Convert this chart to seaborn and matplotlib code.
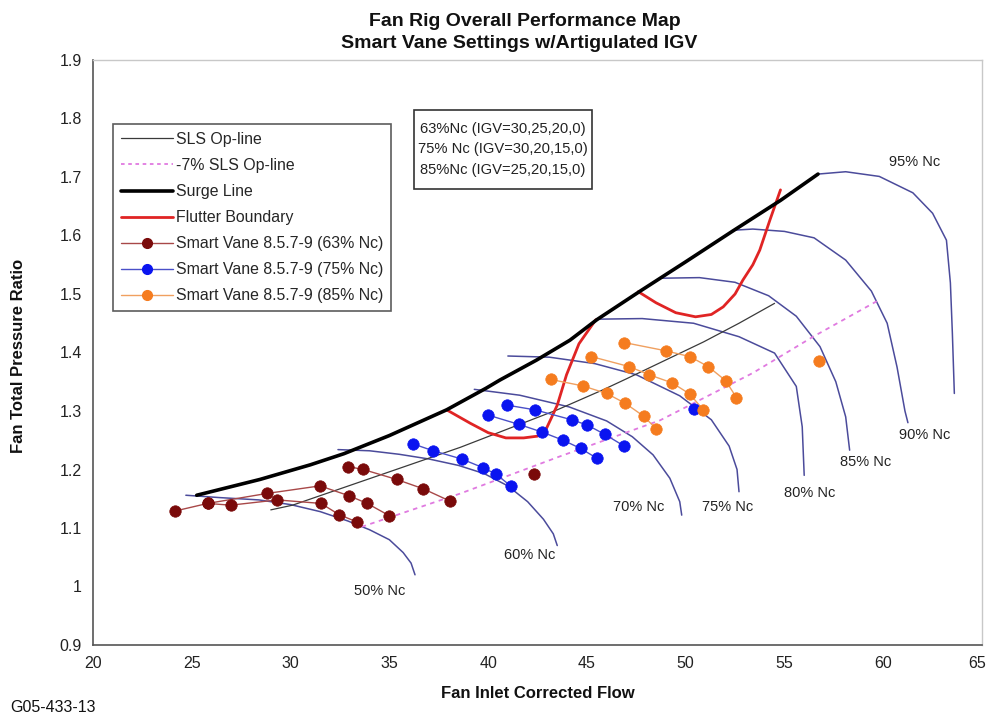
import numpy as np
import pandas as pd
import matplotlib
matplotlib.use("Agg")
import matplotlib.pyplot as plt
from matplotlib.lines import Line2D
from matplotlib.patches import Rectangle
import matplotlib.transforms as mtransforms
import seaborn as sns

# ---------------- data ----------------
# speed lines (x = corrected flow, y = pressure ratio)
n50_x = [24.7, 26.4, 28.4, 30.0, 31.5, 32.9, 34.0, 35.0, 35.7, 36.1, 36.3]
n50_y = [1.156, 1.152, 1.148, 1.140, 1.128, 1.112, 1.097, 1.080, 1.058, 1.040, 1.020]
n60_x = [32.4, 34.0, 35.5, 37.0, 38.5, 39.8, 41.0, 42.0, 42.8, 43.3, 43.5]
n60_y = [1.234, 1.232, 1.226, 1.218, 1.207, 1.193, 1.172, 1.145, 1.115, 1.090, 1.070]
n70_x = [39.3, 41.6, 44.1, 46.0, 47.3, 48.35, 49.2, 49.7, 49.8]
n70_y = [1.337, 1.327, 1.307, 1.283, 1.256, 1.225, 1.185, 1.145, 1.122]
n75_x = [41.0, 43.1, 45.4, 47.5, 49.7, 51.3, 52.2, 52.6, 52.7]
n75_y = [1.394, 1.392, 1.381, 1.362, 1.326, 1.285, 1.240, 1.200, 1.162]
n80_x = [45.6, 47.8, 50.4, 52.7, 54.5, 55.6, 55.9, 56.0]
n80_y = [1.457, 1.458, 1.450, 1.427, 1.399, 1.342, 1.273, 1.190]
n85_x = [48.8, 50.7, 52.5, 54.2, 55.6, 56.8, 57.6, 58.1, 58.3]
n85_y = [1.527, 1.528, 1.520, 1.497, 1.462, 1.410, 1.350, 1.290, 1.233]
n90_x = [52.4, 53.4, 55.0, 56.5, 58.1, 59.4, 60.2, 60.7, 61.1, 61.25]
n90_y = [1.609, 1.611, 1.607, 1.596, 1.558, 1.505, 1.450, 1.375, 1.300, 1.280]
n95_x = [56.7, 58.1, 59.8, 61.5, 62.5, 63.2, 63.4, 63.5, 63.6]
n95_y = [1.705, 1.709, 1.701, 1.673, 1.638, 1.592, 1.519, 1.433, 1.330]

speed_labels = ["50% Nc", "60% Nc", "70% Nc", "75% Nc", "80% Nc", "85% Nc", "90% Nc", "95% Nc"]
speed_label_x = [34.5, 42.1, 47.6, 52.1, 56.3, 59.1, 62.1, 61.6]
speed_label_y = [0.992, 1.054, 1.136, 1.136, 1.160, 1.213, 1.259, 1.726]

surge_x = [25.25, 28.45, 31.0, 32.7, 35.0, 37.9, 39.9, 40.6, 42.45, 44.14, 45.5, 47.7, 50.0, 52.4, 54.8, 56.7]
surge_y = [1.156, 1.183, 1.208, 1.227, 1.258, 1.302, 1.339, 1.353, 1.387, 1.421, 1.456, 1.505, 1.555, 1.608, 1.660, 1.705]

opline_x = [29.0, 30.1, 35.0, 38.6, 43.5, 45.8, 47.0, 50.9, 52.7, 54.5]
opline_y = [1.131, 1.139, 1.196, 1.238, 1.302, 1.336, 1.355, 1.418, 1.450, 1.484]

op7_x = [33.6, 38.6, 43.6, 48.7, 53.4, 56.45, 59.8]
op7_y = [1.102, 1.159, 1.222, 1.284, 1.365, 1.427, 1.490]

flutter1_x = [37.9, 39.1, 40.0, 40.9, 41.8, 42.5, 42.95, 43.2, 43.5, 43.97, 44.6, 45.45]
flutter1_y = [1.302, 1.279, 1.263, 1.254, 1.254, 1.257, 1.270, 1.288, 1.310, 1.362, 1.415, 1.456]
flutter2_x = [47.6, 48.5, 49.5, 50.5, 51.3, 51.9, 52.5, 52.9, 53.4, 53.75, 54.26, 54.8]
flutter2_y = [1.504, 1.485, 1.468, 1.461, 1.465, 1.478, 1.500, 1.524, 1.550, 1.575, 1.626, 1.678]

# Smart vane test points (chains of connected points)
sv63_chain = [1, 1, 1, 1, 1, 1, 1, 2, 2, 2, 2, 2, 2, 3, 3, 3, 3, 3, 4]
sv63_x = [24.15, 25.80, 28.79, 31.49, 32.97, 33.88, 35.00,
          25.80, 26.97, 29.33, 31.54, 32.45, 33.38,
          32.92, 33.68, 35.37, 36.72, 38.07,
          42.33]
sv63_y = [1.129, 1.142, 1.159, 1.172, 1.155, 1.142, 1.121,
          1.142, 1.139, 1.148, 1.142, 1.123, 1.110,
          1.205, 1.200, 1.183, 1.167, 1.146,
          1.192]

sv75_chain = [1] * 6 + [2] * 6 + [3] * 6 + [4]
sv75_x = [36.18, 37.22, 38.66, 39.75, 40.40, 41.14,
          40.00, 41.57, 42.73, 43.80, 44.68, 45.52,
          40.96, 42.37, 44.23, 45.02, 45.91, 46.89,
          50.43]
sv75_y = [1.244, 1.232, 1.218, 1.203, 1.192, 1.172,
          1.293, 1.277, 1.264, 1.250, 1.236, 1.219,
          1.310, 1.302, 1.285, 1.276, 1.260, 1.240,
          1.303]

sv85_chain = [1] * 6 + [2] * 6 + [3] * 6 + [4]
sv85_x = [46.89, 48.98, 50.21, 51.14, 52.02, 52.57,
          45.23, 47.13, 48.15, 49.32, 50.21, 50.89,
          43.16, 44.78, 46.00, 46.95, 47.88, 48.49,
          56.76]
sv85_y = [1.417, 1.403, 1.393, 1.376, 1.352, 1.323,
          1.393, 1.376, 1.362, 1.348, 1.329, 1.302,
          1.354, 1.343, 1.330, 1.313, 1.291, 1.270,
          1.386]

box_lines = ["63%Nc (IGV=30,25,20,0)", "75% Nc (IGV=30,20,15,0)", "85%Nc (IGV=25,20,15,0)"]
legend_labels = ["SLS Op-line", "-7% SLS Op-line", "Surge Line", "Flutter Boundary",
                 "Smart Vane 8.5.7-9 (63% Nc)", "Smart Vane 8.5.7-9 (75% Nc)",
                 "Smart Vane 8.5.7-9 (85% Nc)"]

# ---------------- style ----------------
sns.set_style("white")
plt.rcParams['font.family'] = ['Liberation Sans', 'DejaVu Sans']
NARROW = ['Liberation Sans Narrow', 'Liberation Sans', 'DejaVu Sans']

fig = plt.figure(figsize=(9.87, 7.21), dpi=100)
ax = fig.add_axes([93 / 987, 1 - 645 / 721, (982 - 93) / 987, (645 - 60) / 721])

SPEED_C = "#4b4b9b"
OP_C = "#3a3a3a"
OP7_C = "#e07ae0"
RED_C = "#e02424"
C63 = "#7a0a0a"
C63L = "#a84848"
C75 = "#0a14f0"
C75L = "#4a50c8"
C85 = "#f57c1f"
C85L = "#f0a060"

# speed lines
speed_sets = [(n50_x, n50_y), (n60_x, n60_y), (n70_x, n70_y), (n75_x, n75_y),
              (n80_x, n80_y), (n85_x, n85_y), (n90_x, n90_y), (n95_x, n95_y)]
speed_df = pd.concat([pd.DataFrame({"x": sx, "y": sy, "line": lab})
                      for (sx, sy), lab in zip(speed_sets, speed_labels)], ignore_index=True)
sns.lineplot(data=speed_df, x="x", y="y", units="line", estimator=None, sort=False,
             color=SPEED_C, lw=1.1, ax=ax, legend=False)

# op lines
sns.lineplot(x=opline_x, y=opline_y, sort=False, estimator=None, color=OP_C, lw=0.9, ax=ax)
sns.lineplot(x=op7_x, y=op7_y, sort=False, estimator=None, color=OP7_C, lw=1.3,
             linestyle=(0, (2.5, 2.5)), ax=ax)

# flutter boundary
fl_df = pd.concat([pd.DataFrame({"x": flutter1_x, "y": flutter1_y, "p": 1}),
                   pd.DataFrame({"x": flutter2_x, "y": flutter2_y, "p": 2})], ignore_index=True)
sns.lineplot(data=fl_df, x="x", y="y", units="p", estimator=None, sort=False,
             color=RED_C, lw=2.0, ax=ax, legend=False)

# surge line
sns.lineplot(x=surge_x, y=surge_y, sort=False, estimator=None, color="black", lw=2.6, ax=ax)

# test points
for cx, cy, ch, mc, lc in [(sv63_x, sv63_y, sv63_chain, C63, C63L),
                           (sv75_x, sv75_y, sv75_chain, C75, C75L),
                           (sv85_x, sv85_y, sv85_chain, C85, C85L)]:
    d = pd.DataFrame({"x": cx, "y": cy, "c": ch})
    sns.lineplot(data=d, x="x", y="y", units="c", estimator=None, sort=False,
                 color=lc, lw=1.0, ax=ax, legend=False)
    sns.scatterplot(data=d, x="x", y="y", color=mc, s=68, edgecolor=mc, linewidth=0.5,
                    ax=ax, legend=False, zorder=5)

# speed labels
for lab, lx, ly in zip(speed_labels, speed_label_x, speed_label_y):
    ax.text(lx, ly, lab, ha="center", va="center", fontsize=10.5, color="#222222")

# axes
ax.set_xlim(20, 65)
ax.set_ylim(0.9, 1.9)
ax.set_xticks(np.arange(20, 66, 5))
ax.set_yticks(np.round(np.arange(0.9, 1.91, 0.1), 1))
ax.xaxis.set_major_formatter(matplotlib.ticker.FuncFormatter(lambda v, p: f"{v:g}"))
ax.yaxis.set_major_formatter(matplotlib.ticker.FuncFormatter(lambda v, p: f"{v:g}"))
ax.tick_params(axis="both", direction="out", length=5, width=1, color="#444444",
               labelsize=11.5, labelcolor="#222222", pad=3)
ax.tick_params(axis="x", pad=3)
for t in ax.get_xticklabels() + ax.get_yticklabels():
    t.set_fontfamily(NARROW)
last = ax.get_xticklabels()[-1]
last.set_transform(last.get_transform() + mtransforms.ScaledTranslation(-5 / 100, 0, fig.dpi_scale_trans))
ax.set_xlabel("")
ax.set_ylabel("")
for s in ["left", "bottom"]:
    ax.spines[s].set_color("#555555")
    ax.spines[s].set_linewidth(1.2)
for s in ["top", "right"]:
    ax.spines[s].set_color("#c8c8c8")
    ax.spines[s].set_linewidth(1.0)
    ax.spines[s].set_visible(True)

# legend
handles = [
    Line2D([], [], color=OP_C, lw=0.9),
    Line2D([], [], color=OP7_C, lw=1.3, linestyle=(0, (2, 2))),
    Line2D([], [], color="black", lw=2.6),
    Line2D([], [], color=RED_C, lw=2.0),
    Line2D([], [], color=C63L, lw=1.0, marker="o", markersize=7, markerfacecolor=C63, markeredgecolor=C63),
    Line2D([], [], color=C75L, lw=1.0, marker="o", markersize=7, markerfacecolor=C75, markeredgecolor=C75),
    Line2D([], [], color=C85L, lw=1.0, marker="o", markersize=7, markerfacecolor=C85, markeredgecolor=C85),
]
leg = ax.legend(handles, legend_labels, loc="upper left",
                bbox_to_anchor=((113 - 93) / 889, (645 - 124) / 585), borderaxespad=0,
                frameon=True, fancybox=False, edgecolor="#333333", fontsize=11.4,
                handlelength=3.3, handletextpad=0.15, labelspacing=0.7, borderpad=0.5)
leg.get_frame().set_linewidth(1.2)

# annotation box
bx0, bx1 = (414 - 93) / 889, (592 - 93) / 889
by0, by1 = (645 - 189) / 585, (645 - 110) / 585
ax.add_patch(Rectangle((bx0, by0), bx1 - bx0, by1 - by0, transform=ax.transAxes,
                       facecolor="white", edgecolor="#333333", linewidth=1.2, zorder=6))
ax.text((bx0 + bx1) / 2, (by0 + by1) / 2, "\n".join(box_lines), transform=ax.transAxes,
        ha="center", va="center", fontsize=10.6, linespacing=1.6, color="#222222", zorder=7)

# titles & labels
fig.text(525 / 987, 1 - 21 / 721, "Fan Rig Overall Performance Map", ha="center", va="center",
         fontsize=14, fontweight="bold", color="#111111", family=NARROW)
fig.text(519 / 987, 1 - 43 / 721, "Smart Vane Settings w/Artigulated IGV", ha="center", va="center",
         fontsize=14, fontweight="bold", color="#111111", family=NARROW)
fig.text(538 / 987, 1 - 693 / 721, "Fan Inlet Corrected Flow", ha="center", va="center",
         fontsize=12, fontweight="bold", color="#111111", family=NARROW)
fig.text(19 / 987, 1 - 356 / 721, "Fan Total Pressure Ratio", ha="center", va="center",
         rotation=90, fontsize=12, fontweight="bold", color="#111111", family=NARROW)
fig.text(10 / 987, 1 - 708 / 721, "G05-433-13", ha="left", va="center",
         fontsize=11.5, color="#111111", family=NARROW)

fig.savefig("out.png", dpi=100, facecolor="white")
